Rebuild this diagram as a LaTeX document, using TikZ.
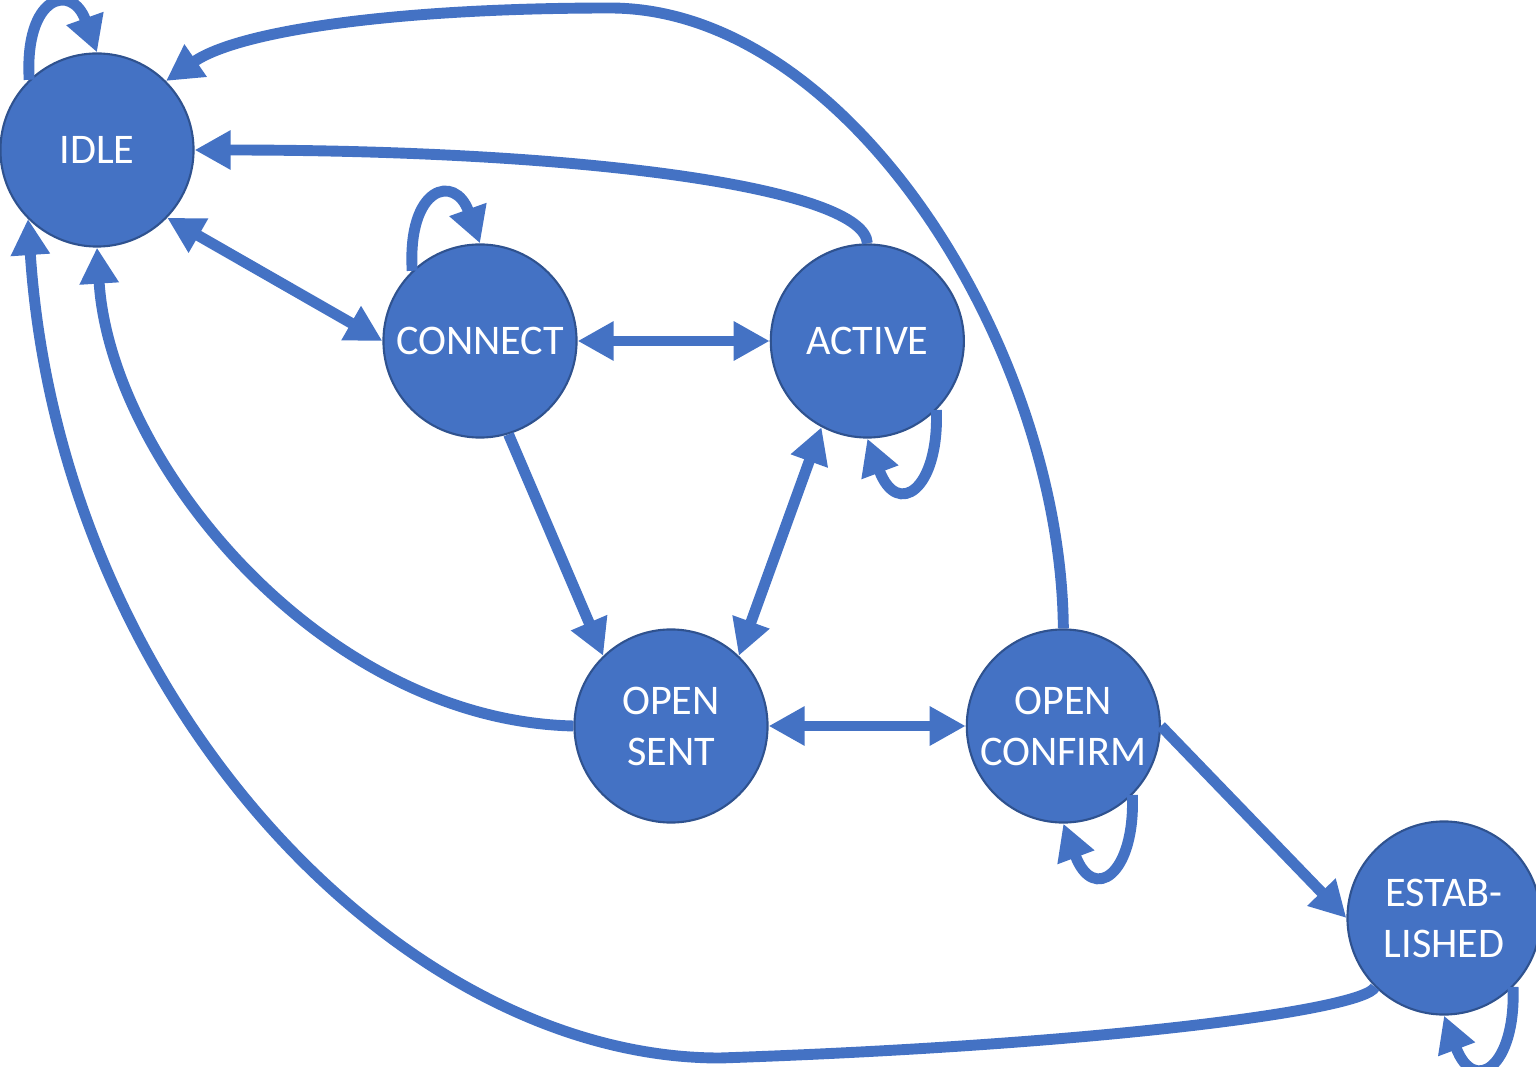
\documentclass[tikz,border=0pt]{standalone}
\usepackage{fontspec}
\setmainfont{Carlito}
\usetikzlibrary{arrows.meta,positioning}
\definecolor{fsmblue}{HTML}{4472C4}
\definecolor{fsmedge}{HTML}{2F528F}

\begin{document}
\begin{tikzpicture}[
    x=0.01cm, y=-0.01cm,
    >={Triangle[length=3.6mm,width=3.7mm]},
    fsmstate/.style={circle, draw=fsmedge, line width=0.6pt, fill=fsmblue, text=white, minimum size=1.93cm, inner sep=0pt, align=center, font=\fontsize{12}{14.5}\selectfont},
    flow/.style={->, line width=3.1pt, fsmblue}
]
    \useasboundingbox (0,0) rectangle (1536,1067);

    % States
    \node[fsmstate] (idle) at (97,150) {IDLE};
    \node[fsmstate] (connect) at (480,341) {CONNECT};
    \node[fsmstate, right=1.92cm of connect] (active) {ACTIVE};
    \node[fsmstate] (opensent) at (671,726) {OPEN\\SENT};
    \node[fsmstate, right=1.97cm of opensent] (openconfirm) {OPEN\\CONFIRM};
    \node[fsmstate] (established) at (1444,918) {ESTAB-\\LISHED};

    % Self loops
    \draw[flow] (idle.134) .. controls +(-5,-85) and +(-25,-70) .. (idle.north);
    \draw[flow] (connect.134) .. controls +(-5,-85) and +(-25,-70) .. (connect.north);
    \draw[flow] (active.-45) .. controls +(3,80) and +(30,80) .. (active.south);
    \draw[flow] (openconfirm.-45) .. controls +(3,80) and +(30,80) .. (openconfirm.south);
    \draw[flow] (established.-45) .. controls +(3,80) and +(30,80) .. (established.south);

    % Straight transitions
    \draw[flow, <->] (idle.-44) -- (connect.west);
    \draw[flow, <->] (connect.east) -- (active.west);
    \draw[flow] (connect.-73) -- (opensent.134);
    \draw[flow, <->] (active.-118) -- (opensent.46);
    \draw[flow, <->] (opensent.east) -- (openconfirm.west);
    \draw[flow] (openconfirm.east) -- (established.west);

    % Back to idle
    \draw[flow] (active.north) .. controls (865,190) and (600,150) .. (idle.east);
    \draw[flow] (opensent.west) .. controls (320,720) and (110,460) .. (idle.south);
    \draw[flow] (openconfirm.north) .. controls (1061,350) and (850,8) .. (610,8)
        .. controls (400,8) and (240,30) .. (idle.45);
    \draw[flow] (established.-135) .. controls (1365,1010) and (1100,1045) .. (720,1058)
        .. controls (400,1058) and (60,700) .. (idle.-135);

\end{tikzpicture}
\end{document}
